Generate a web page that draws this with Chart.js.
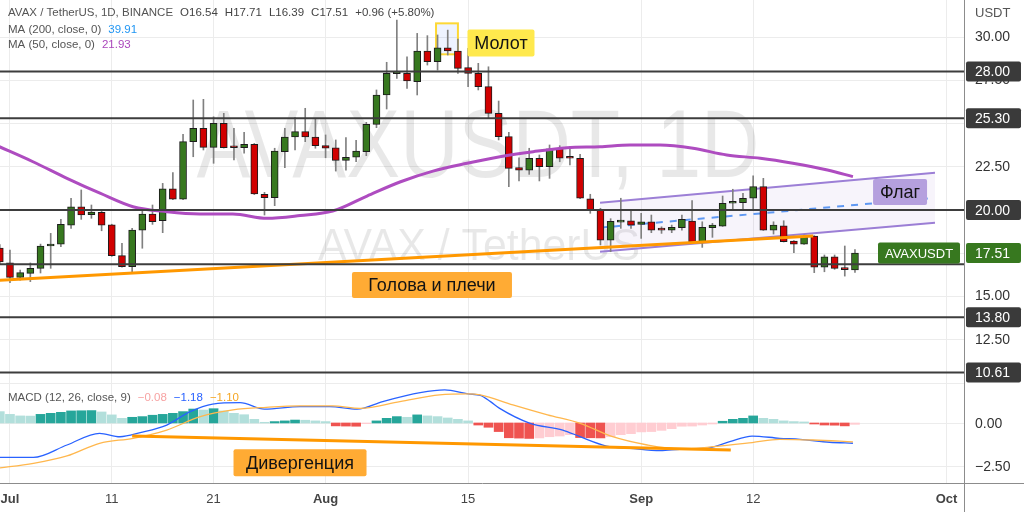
<!DOCTYPE html>
<html lang="ru">
<head>
<meta charset="UTF-8">
<title>AVAX / TetherUS, 1D</title>
<script src="https://cdn.jsdelivr.net/npm/chart.js"></script>
<style>
  html, body { margin: 0; padding: 0; background: #ffffff; }
  #wrap { width: 1024px; height: 512px; }
</style>
</head>
<body>
<div id="wrap"><canvas id="chart" width="1024" height="512"></canvas></div>
<script>
// day 0 = 1 July, first candle is 30 June (-1), last is 22 September (83)
const firstDay = -1;

const opens = [17.80, 16.95, 16.11, 16.34, 16.63, 17.92, 18.02, 19.13, 20.19, 19.73, 19.87, 19.15, 17.36, 16.72, 18.84, 19.77, 19.38, 21.23, 20.62, 23.95, 24.72, 23.62, 25.01, 23.64, 23.60, 23.80, 20.91, 20.71, 23.37, 24.22, 24.53, 24.22, 23.72, 23.60, 22.87, 23.05, 23.37, 24.95, 26.65, 27.88, 27.90, 27.42, 29.19, 28.57, 29.38, 29.19, 28.23, 27.90, 27.13, 25.59, 24.24, 22.45, 22.31, 22.99, 22.50, 23.57, 23.02, 22.99, 20.64, 20.04, 18.25, 19.30, 19.38, 19.17, 19.32, 18.90, 18.84, 18.98, 19.36, 18.17, 18.98, 19.07, 20.39, 20.42, 20.68, 21.35, 18.84, 19.09, 18.21, 18.03, 18.50, 16.69, 17.30, 16.63, 16.54];
const highs = [18.00, 17.69, 16.53, 16.94, 18.03, 18.65, 19.46, 20.68, 21.16, 20.29, 19.96, 19.18, 18.08, 18.94, 19.96, 20.29, 21.54, 22.16, 24.38, 26.36, 26.40, 25.39, 25.59, 24.72, 24.49, 23.85, 21.02, 23.57, 24.72, 25.34, 25.88, 25.29, 24.34, 24.05, 24.18, 24.03, 25.07, 26.94, 28.54, 30.98, 28.86, 30.21, 30.08, 30.12, 30.40, 29.88, 29.35, 28.48, 28.28, 26.30, 24.49, 23.02, 23.57, 23.18, 23.76, 23.72, 23.66, 23.22, 20.91, 20.10, 19.50, 20.68, 20.04, 19.81, 19.71, 19.03, 19.13, 19.71, 20.54, 19.32, 19.23, 20.81, 21.20, 20.97, 21.97, 21.83, 19.32, 19.38, 18.23, 18.55, 18.52, 17.40, 17.40, 17.92, 17.71];
const lows = [16.90, 15.80, 15.95, 15.86, 16.36, 16.63, 17.88, 18.94, 19.46, 19.52, 18.80, 17.32, 16.70, 16.38, 17.79, 19.17, 18.69, 20.60, 20.60, 23.08, 23.47, 22.70, 23.58, 22.89, 23.28, 20.89, 19.71, 20.25, 22.45, 23.47, 23.95, 23.57, 23.02, 22.25, 22.31, 22.79, 23.14, 24.76, 25.84, 27.61, 27.03, 26.65, 28.38, 28.09, 28.96, 27.90, 27.13, 26.94, 25.30, 24.05, 21.35, 21.68, 22.06, 21.68, 21.83, 22.79, 22.60, 20.66, 19.81, 17.98, 17.59, 18.94, 18.94, 18.36, 18.69, 18.65, 18.69, 18.84, 18.15, 17.84, 18.42, 19.05, 20.00, 20.00, 20.00, 18.82, 18.61, 18.15, 17.53, 18.01, 16.38, 16.43, 16.57, 16.18, 16.39];
const closes = [17.00, 16.11, 16.38, 16.63, 17.92, 18.03, 19.17, 20.19, 19.71, 19.88, 19.13, 17.36, 16.72, 18.84, 19.77, 19.32, 21.23, 20.62, 23.95, 24.72, 23.62, 25.01, 23.60, 23.60, 23.80, 20.93, 20.71, 23.41, 24.22, 24.53, 24.22, 23.72, 23.57, 22.87, 23.05, 23.41, 24.95, 26.65, 27.90, 27.95, 27.46, 29.19, 28.57, 29.38, 29.19, 28.19, 27.90, 27.13, 25.59, 24.24, 22.41, 22.31, 22.99, 22.50, 23.53, 22.99, 22.99, 20.68, 20.00, 18.25, 19.34, 19.38, 19.13, 19.32, 18.84, 18.84, 19.00, 19.46, 18.17, 19.00, 19.13, 20.39, 20.44, 20.68, 21.35, 18.84, 19.13, 18.17, 18.03, 18.46, 16.69, 17.30, 16.63, 16.55, 17.51];

const ma50Days = [-1.2, 2.26, 5.6, 8.84, 12.08, 15.42, 18.66, 21.9, 25.25, 28.5, 31.7, 35.07, 38.3, 41.55, 44.9, 48.13, 51.4, 54.7, 57.96, 60.9, 63.85, 67.1, 70.4, 73.7, 76.9, 80.3, 82.8];
const ma50Values = [23.70, 22.79, 21.83, 20.97, 20.19, 19.90, 19.77, 19.77, 19.52, 19.68, 19.94, 20.81, 21.62, 22.25, 22.70, 23.08, 23.37, 23.60, 23.66, 23.76, 23.76, 23.57, 23.18, 22.99, 22.70, 22.31, 21.93];
const ma200Last = 39.91;

const macdDays = [-1.2, 2.3, 5.6, 8.8, 10.8, 12.8, 15.4, 17.7, 19.9, 22.6, 25.0, 28.5, 31.4, 34.1, 36.6, 40.3, 42.7, 45.0, 46.2, 47.2, 48.1, 51.1, 54.3, 56.0, 58.6, 60.9, 63.9, 65.8, 68.8, 70.7, 72.9, 75.6, 77.6, 80.5, 82.8];
const macdValues = [-2.00, -2.00, -1.28, -0.60, -0.80, -0.56, -0.12, 0.66, 1.10, 1.18, 0.80, 0.95, 0.95, 0.80, 1.24, 1.76, 1.92, 1.69, 1.60, 1.24, 0.85, -0.02, -0.41, -0.80, -1.34, -1.47, -1.61, -1.53, -1.44, -1.09, -0.76, -0.89, -0.95, -1.12, -1.18];
const signalDays = [-1.2, 2.3, 5.6, 8.8, 12.1, 15.4, 18.7, 21.9, 25.2, 28.5, 31.7, 34.4, 38.3, 42.2, 45.0, 46.2, 49.4, 52.8, 56.0, 59.2, 62.6, 65.8, 69.1, 72.9, 75.6, 78.9, 82.8];
const signalValues = [-2.63, -2.35, -1.92, -1.18, -0.89, -0.41, 0.37, 0.76, 0.91, 0.99, 0.99, 0.85, 1.24, 1.63, 1.69, 1.63, 1.05, 0.47, -0.02, -0.80, -1.28, -1.51, -1.38, -1.14, -0.95, -0.99, -1.10];
const histValues = [0.66, 0.50, 0.41, 0.40, 0.50, 0.56, 0.62, 0.70, 0.71, 0.72, 0.64, 0.47, 0.27, 0.33, 0.37, 0.45, 0.50, 0.56, 0.66, 0.81, 0.75, 0.83, 0.70, 0.56, 0.48, 0.21, 0.04, 0.08, 0.12, 0.17, 0.16, 0.12, 0.08, -0.17, -0.18, -0.19, -0.04, 0.12, 0.27, 0.37, 0.33, 0.47, 0.41, 0.37, 0.29, 0.21, 0.12, -0.12, -0.25, -0.50, -0.86, -0.88, -0.90, -0.87, -0.80, -0.76, -0.68, -0.85, -0.86, -0.87, -0.80, -0.68, -0.62, -0.52, -0.50, -0.43, -0.33, -0.19, -0.18, -0.12, -0.06, 0.10, 0.21, 0.27, 0.41, 0.27, 0.21, 0.12, 0.08, 0.06, -0.06, -0.12, -0.13, -0.17, -0.08];

const levels = [28.00, 25.30, 20.00, 16.86, 13.80, 10.61];
const levelTagged = [true, true, true, false, true, true];

const priceTicks = [10, 12.5, 15, 17.5, 20, 22.5, 25, 27.5, 30];
const priceTickShown = [12.5, 15, 22.5, 27.5, 30];
const macdTicks = [0, -2.5];
const dateTicks = [0, 10, 20, 31, 45, 62, 73, 92];
const dateLabels = ['Jul', '11', '21', 'Aug', '15', 'Sep', '12', 'Oct'];

// drawings: [day, value]
const headShoulderLine = [[-1.2, 15.93], [78.9, 18.50]];
const flagTop = [[57.96, 20.42], [90.86, 22.16]];
const flagBottom = [[57.96, 17.59], [90.86, 19.27]];
const flagMid = [[57.96, 18.98], [90.4, 20.68]];
const divergenceLine = [[12.0, -0.76], [70.8, -1.57]];
const hammerBox = [[41.85, 30.79], [44.0, 29.0]];

const family = '"Liberation Sans", Arial, sans-serif';
const upColor = '#37781f';
const downColor = '#d10000';
const gridColor = '#ececec';

const candleDays = opens.map((_, i) => firstDay + i);
const pts = arr => arr.map(([x, y]) => ({ x, y }));
const fmt = v => (v < 0 ? '\u2212' : '') + Math.abs(v).toFixed(2);

const histColors = histValues.map((v, i) => {
    const prev = i > 0 ? histValues[i - 1] : Infinity;
    if (v >= 0) return v > prev ? '#26a69a' : '#b2dfdb';
    return v < prev ? '#ef5350' : '#ffcdd2';
});

const datasets = [];
levels.forEach(v => datasets.push({
    type: 'line', data: [{ x: -3, y: v }, { x: 96, y: v }],
    borderColor: '#3d3d3d', borderWidth: 2, pointRadius: 0, order: 1
}));
datasets.push({ type: 'line', data: pts(headShoulderLine), borderColor: '#ff9800', borderWidth: 3, pointRadius: 0, order: 1 });
datasets.push({ type: 'line', yAxisID: 'y2', data: pts(divergenceLine), borderColor: '#ff9800', borderWidth: 3, pointRadius: 0, order: 1 });
datasets.push({ type: 'line', data: pts(flagTop), borderColor: '#9c7fd6', borderWidth: 2, pointRadius: 0,
    fill: '+1', backgroundColor: 'rgba(149,117,205,0.08)', order: 5 });
datasets.push({ type: 'line', data: pts(flagBottom), borderColor: '#9c7fd6', borderWidth: 2, pointRadius: 0, order: 5 });
datasets.push({ type: 'line', data: pts(flagMid), borderColor: '#5b9cf6', borderWidth: 2, borderDash: [7, 7], pointRadius: 0, order: 5 });
datasets.push({ type: 'line', data: ma50Days.map((d, i) => ({ x: d, y: ma50Values[i] })),
    borderColor: '#ae4cc0', borderWidth: 3, pointRadius: 0, cubicInterpolationMode: 'monotone', order: 2 });
datasets.push({ type: 'bar', data: candleDays.map((d, i) => ({ x: d, y: [opens[i], closes[i]] })),
    backgroundColor: candleDays.map((d, i) => closes[i] >= opens[i] ? upColor : downColor),
    borderColor: '#1c1c1c', borderWidth: 1, borderSkipped: false, grouped: false,
    barPercentage: 1, categoryPercentage: 1, maxBarThickness: 7, minBarLength: 2, order: 3 });
datasets.push({ type: 'bar', data: candleDays.map((d, i) => ({ x: d, y: [lows[i], highs[i]] })),
    backgroundColor: '#808080', borderWidth: 0, grouped: false,
    barPercentage: 1, categoryPercentage: 1, maxBarThickness: 1, order: 4 });
datasets.push({ type: 'bar', yAxisID: 'y2', data: candleDays.map((d, i) => ({ x: d, y: histValues[i] })),
    backgroundColor: histColors, borderWidth: 0, grouped: false,
    barPercentage: 1, categoryPercentage: 1, maxBarThickness: 9, order: 3 });
datasets.push({ type: 'line', yAxisID: 'y2', data: signalDays.map((d, i) => ({ x: d, y: signalValues[i] })),
    borderColor: '#ffb74d', borderWidth: 1.3, pointRadius: 0, cubicInterpolationMode: 'monotone', order: 1 });
datasets.push({ type: 'line', yAxisID: 'y2', data: macdDays.map((d, i) => ({ x: d, y: macdValues[i] })),
    borderColor: '#2962ff', borderWidth: 1.3, pointRadius: 0, cubicInterpolationMode: 'monotone', order: 1 });

function rrect(ctx, x, y, w, h, r) {
    ctx.beginPath();
    if (ctx.roundRect) ctx.roundRect(x, y, w, h, r); else ctx.rect(x, y, w, h);
}

function tag(ctx, x, cy, w, h, fill, text, size, color, align) {
    ctx.fillStyle = fill;
    rrect(ctx, x, cy - h / 2, w, h, 2);
    ctx.fill();
    ctx.fillStyle = color;
    ctx.font = `${size}px ${family}`;
    ctx.textBaseline = 'middle';
    ctx.textAlign = align || 'center';
    ctx.fillText(text, align === 'left' ? x + 9 : x + w / 2, cy + 1);
}

function stretchText(ctx, text, cx, baseline, width, size) {
    ctx.font = `${size}px ${family}`;
    const w = ctx.measureText(text).width;
    ctx.save();
    ctx.translate(cx, baseline);
    ctx.scale(width / w, 1);
    ctx.textAlign = 'center';
    ctx.textBaseline = 'alphabetic';
    ctx.fillText(text, 0, 0);
    ctx.restore();
}

function textRow(ctx, x, y, parts) {
    ctx.font = `11.5px ${family}`;
    ctx.textAlign = 'left';
    ctx.textBaseline = 'middle';
    parts.forEach(([t, c]) => {
        ctx.fillStyle = c;
        ctx.fillText(t, x, y);
        x += ctx.measureText(t).width + 7;
    });
}

const chartDecor = {
    id: 'chartDecor',
    beforeDatasetsDraw(chart) {
        const { ctx, chartArea: a, scales: { x, y, y2 } } = chart;
        ctx.save();
        ctx.strokeStyle = gridColor;
        ctx.lineWidth = 1;
        macdTicks.forEach(v => {
            const py = Math.round(y2.getPixelForValue(v)) + 0.5;
            ctx.beginPath(); ctx.moveTo(a.left, py); ctx.lineTo(a.right, py); ctx.stroke();
        });
        ctx.fillStyle = 'rgba(0,0,0,0.09)';
        stretchText(ctx, 'AVAXUSDT, 1D', 478, 177, 563, 97);
        stretchText(ctx, 'AVAX / TetherUS', 479, 260, 322, 44);
        const [[d0, p0], [d1, p1]] = hammerBox;
        const bx = x.getPixelForValue(d0), by = y.getPixelForValue(p0);
        const bw = x.getPixelForValue(d1) - bx, bh = y.getPixelForValue(p1) - by;
        ctx.fillStyle = 'rgba(41,98,255,0.08)';
        ctx.fillRect(bx, by, bw, bh);
        ctx.strokeStyle = '#fdd835';
        ctx.lineWidth = 2;
        ctx.strokeRect(bx, by, bw, bh);
        ctx.restore();
    },
    afterDraw(chart) {
        const { ctx, chartArea: a, scales: { x, y, y2 } } = chart;
        const last = closes.length - 1;
        ctx.save();
        // axis edges in the price-scale corner
        ctx.strokeStyle = '#8c8c8c';
        ctx.lineWidth = 1;
        ctx.beginPath();
        ctx.moveTo(a.right, a.bottom + 0.5); ctx.lineTo(1024, a.bottom + 0.5);
        ctx.moveTo(a.right + 0.5, a.bottom); ctx.lineTo(a.right + 0.5, 512);
        ctx.stroke();

        ctx.font = `13px ${family}`;
        ctx.textAlign = 'left';
        ctx.textBaseline = 'middle';
        ctx.fillStyle = '#555';
        ctx.fillText('USDT', 975, 13);
        ctx.fillStyle = '#333';
        ctx.font = `14px ${family}`;
        macdTicks.forEach(v => ctx.fillText(fmt(v), 975, y2.getPixelForValue(v) + 1));

        levels.forEach((v, i) => {
            if (levelTagged[i]) tag(ctx, 966, y.getPixelForValue(v), 55, 20, '#3a3a3a', v.toFixed(2), 14, '#ffffff', 'left');
        });
        const cy = y.getPixelForValue(closes[last]);
        tag(ctx, 966, cy, 55, 20, upColor, closes[last].toFixed(2), 14, '#ffffff', 'left');
        tag(ctx, 878, cy, 82, 21, upColor, 'AVAXUSDT', 13, '#ffffff');

        const notes = [
            { text: 'Молот', day: 48.23, value: 29.65, s: y, w: 67, h: 27, fill: '#ffe94d' },
            { text: 'Голова и плечи', day: 41.45, value: 15.66, s: y, w: 160, h: 26, fill: '#ffab34' },
            { text: 'Дивергенция', day: 28.49, value: -2.31, s: y2, w: 133, h: 27, fill: '#ffab34' },
            { text: 'Флаг', day: 87.43, value: 21.04, s: y, w: 54, h: 26, fill: '#b5a0de' }
        ];
        notes.forEach(n => {
            const px = x.getPixelForValue(n.day);
            tag(ctx, px - n.w / 2, n.s.getPixelForValue(n.value), n.w, n.h, n.fill, n.text, 18, '#131313');
        });

        const chg = closes[last] - closes[last - 1];
        const pct = chg / closes[last - 1] * 100;
        textRow(ctx, 8, 13, [
            ['AVAX / TetherUS, 1D, BINANCE', '#555'],
            ['O' + opens[last].toFixed(2), '#444'],
            ['H' + highs[last].toFixed(2), '#444'],
            ['L' + lows[last].toFixed(2), '#444'],
            ['C' + closes[last].toFixed(2), '#444'],
            [(chg >= 0 ? '+' : '\u2212') + Math.abs(chg).toFixed(2) + ' (' + (pct >= 0 ? '+' : '\u2212') + Math.abs(pct).toFixed(2) + '%)', '#444']
        ]);
        textRow(ctx, 8, 30, [['MA (200, close, 0)', '#555'], [ma200Last.toFixed(2), '#2196f3']]);
        textRow(ctx, 8, 45, [['MA (50, close, 0)', '#555'], [ma50Values[ma50Values.length - 1].toFixed(2), '#ab47bc']]);
        textRow(ctx, 8, 398, [
            ['MACD (12, 26, close, 9)', '#555'],
            [fmt(histValues[last]), '#f7a3a3'],
            [fmt(macdValues[macdValues.length - 1]), '#2962ff'],
            [fmt(signalValues[signalValues.length - 1]), '#f5a623']
        ]);
        ctx.restore();
    }
};

new Chart(document.getElementById('chart'), {
    type: 'bar',
    data: { datasets },
    options: {
        responsive: false,
        animation: false,
        devicePixelRatio: 1,
        layout: { padding: 0 },
        plugins: { legend: { display: false }, tooltip: { enabled: false } },
        scales: {
            x: {
                type: 'linear', min: -0.98, max: 93.71, offset: false,
                afterBuildTicks: s => { s.ticks = dateTicks.map(v => ({ value: v })); },
                afterFit: s => { s.height = 29; s.paddingLeft = 0; s.paddingRight = 0; },
                grid: { color: gridColor, drawTicks: false, offset: false },
                border: { color: '#8c8c8c' },
                ticks: {
                    autoSkip: false, maxRotation: 0, padding: 9, color: '#444',
                    callback: v => dateLabels[dateTicks.indexOf(v)],
                    font: c => ({ family, size: 13, weight: isNaN(Number(dateLabels[c.index])) ? 'bold' : 'normal' })
                }
            },
            y: {
                position: 'right', min: 4.22, max: 32.14,
                afterBuildTicks: s => { s.ticks = priceTicks.map(v => ({ value: v })); },
                afterFit: s => { s.width = 60; s.paddingTop = 0; s.paddingBottom = 0; },
                grid: { color: gridColor, drawTicks: false },
                border: { color: '#8c8c8c' },
                ticks: {
                    padding: 11, color: '#333', font: { family, size: 14 },
                    callback: v => priceTickShown.includes(v) ? v.toFixed(2) : ''
                }
            },
            y2: {
                display: false, min: -3.49, max: 24.59,
                afterFit: s => { s.paddingTop = 0; s.paddingBottom = 0; }
            }
        }
    },
    plugins: [chartDecor]
});
</script>
</body>
</html>
